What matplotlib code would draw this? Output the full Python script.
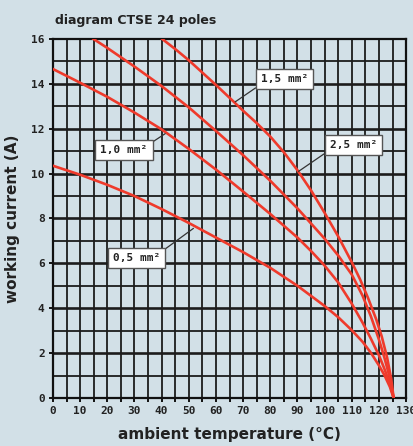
import matplotlib
matplotlib.use("Agg")
import matplotlib.pyplot as plt
from matplotlib.ticker import MultipleLocator

# data (ambient temperature in °C, working current in A)
temp_05 = [0, 10, 20, 30, 40, 50, 60, 70, 80, 90, 100, 105, 110, 114, 117, 120, 122, 124, 125.4]
amps_05 = [10.35, 9.95, 9.5, 9.0, 8.42, 7.8, 7.15, 6.5, 5.8, 5.0, 4.1, 3.6, 3.02, 2.5, 2.02, 1.45, 1.02, 0.5, 0]

temp_10 = [0, 10, 20, 30, 40, 50, 60, 70, 80, 90, 95, 100, 105, 110, 114, 117, 120, 122, 124, 125.4]
amps_10 = [14.66, 14.05, 13.42, 12.72, 11.97, 11.1, 10.18, 9.2, 8.2, 7.15, 6.55, 5.9, 5.15, 4.2, 3.35, 2.65, 1.9, 1.3, 0.65, 0]

temp_15 = [14.9, 20, 30, 40, 50, 60, 70, 80, 90, 100, 105, 110, 114, 117, 120, 122, 124, 125.4]
amps_15 = [16, 15.6, 14.77, 13.9, 12.95, 11.9, 10.82, 9.68, 8.45, 7.1, 6.35, 5.5, 4.55, 3.65, 2.6, 1.8, 0.9, 0]

temp_25 = [40.2, 45, 50, 55, 60, 65, 70, 75, 80, 85, 90, 95, 100, 105, 110, 113, 116, 119, 121, 123, 124.5, 125.4]
amps_25 = [16, 15.55, 15.05, 14.5, 13.95, 13.38, 12.8, 12.25, 11.65, 10.95, 10.15, 9.25, 8.25, 7.2, 6.05, 5.3, 4.45, 3.5, 2.75, 1.8, 0.85, 0]

x_ticks = list(range(0, 131, 10))
y_ticks = list(range(0, 17, 2))

bg = "#d2e0e7"
red = "#ef3a2b"

fig = plt.figure(figsize=(4.14, 4.46), dpi=100, facecolor=bg)
ax = fig.add_axes([0.128, 0.1076, 0.853, 0.805])
ax.set_facecolor(bg)
ax.set_xlim(0, 130)
ax.set_ylim(0, 16)

# grid: every 5 degC and every 1 A, even amps drawn heavier
for t in range(5, 130, 5):
    ax.axvline(t, color="#1c1c1c", lw=1.3, zorder=1)
for a in range(1, 16):
    ax.axhline(a, color="#1c1c1c", lw=1.9 if a % 2 == 0 else 1.3, zorder=1)

for xs, ys in [(temp_05, amps_05), (temp_10, amps_10), (temp_15, amps_15), (temp_25, amps_25)]:
    ax.plot(xs, ys, color=red, lw=1.9, zorder=3, solid_joinstyle="round")

for s in ax.spines.values():
    s.set_linewidth(1.6)
    s.set_color("#111111")

mono = dict(family="DejaVu Sans Mono", weight="bold", size=8)
ax.set_xticks(x_ticks)
ax.xaxis.set_minor_locator(MultipleLocator(5))
ax.set_yticks(y_ticks)
ax.set_xticklabels([str(t) for t in x_ticks], fontdict=mono, color="#222222")
ax.set_yticklabels([str(a) for a in y_ticks], fontdict=mono, color="#222222")
ax.tick_params(which="both", direction="out", length=3, width=1.4, color="#111111", pad=3)

lab = dict(family="DejaVu Sans", weight="bold", size=11, color="#222222")
ax.set_xlabel("ambient temperature (°C)", fontdict=lab, labelpad=8)
ax.set_ylabel("working current (A)", fontdict=lab, labelpad=8)
fig.text(0.133, 0.955, "diagram CTSE 24 poles", family="DejaVu Sans", weight="bold",
         size=9, color="#222222", va="center", ha="left")

# labels with leader lines
boxes = [
    ("0,5 mm²", (51.7, 7.56), (30.7, 6.25), (1, 1)),
    ("1,0 mm²", (41.3, 11.78), (26.1, 11.04), (1, 1)),
    ("1,5 mm²", (67.1, 13.2), (85.3, 14.21), (0, 0)),
    ("2,5 mm²", (90.4, 10.1), (110.5, 11.27), (0, 0)),
]
for txt, pt, box, rel in boxes:
    ax.annotate(txt, xy=pt, xytext=box, ha="center", va="center",
                family="DejaVu Sans Mono", weight="bold", size=8, color="#222222",
                bbox=dict(boxstyle="square,pad=0.45", fc="white", ec="#555555", lw=1.0),
                arrowprops=dict(arrowstyle="-", color="#333333", lw=0.9,
                                shrinkA=0, shrinkB=0, relpos=rel),
                zorder=5)

fig.savefig("out.png", dpi=100, facecolor=bg)
